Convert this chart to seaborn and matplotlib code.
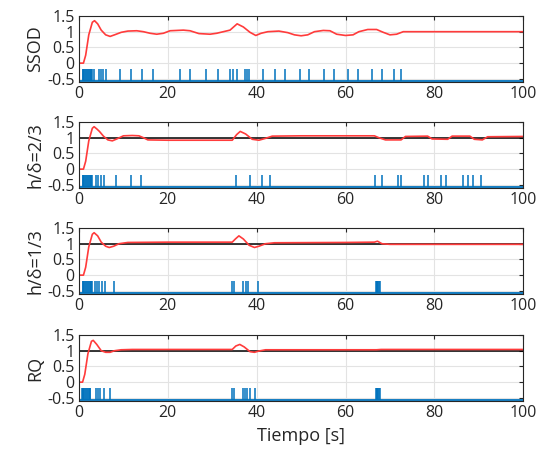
"""
Step responses with event markers for four schemes
"""

import numpy as np
import seaborn as sns
import matplotlib
matplotlib.use('Agg')
import matplotlib.pyplot as plt

sns.set_style('whitegrid')
plt.rcParams['font.family'] = ['Open Sans', 'DejaVu Sans']

# panel labels
labels = ['SSOD', 'h/\u03b4=2/3', 'h/\u03b4=1/3', 'RQ']

# response (red) per panel
t_ssod = [0, 1.0, 1.5, 2.2, 3.0, 3.5, 4.2, 5.0, 6.0, 7.0, 8.0, 9.5, 11, 13, 14.5, 16, 17.5, 19, 20.5, 23.5,
          25, 27, 29.5, 31, 32.5, 34, 35.6, 37, 38.5, 39.8, 41, 42.5, 45, 47, 48.5, 50, 51.5, 53, 55, 56.5,
          58, 60, 61.7, 63, 65, 67, 68.5, 70, 71.5, 73, 80, 90, 100]
y_ssod = [0, 0, 0.25, 0.9, 1.3, 1.35, 1.25, 1.05, 0.9, 0.85, 0.9, 0.98, 1.02, 1.03, 1.0, 0.95, 0.92, 0.95, 1.03, 1.05,
          1.03, 0.94, 0.92, 0.95, 1.0, 1.05, 1.25, 1.15, 0.98, 0.88, 0.95, 1.0, 1.02, 0.97, 0.9, 0.87, 0.9, 1.0, 1.04, 1.03,
          0.92, 0.88, 0.9, 1.0, 1.07, 1.07, 0.98, 0.9, 0.92, 1.0, 1.0, 1.0, 1.0]

t_h23 = [0, 1.0, 1.5, 2.2, 3.0, 3.4, 4.0, 4.6, 5.5, 6.5, 7.5, 8.5, 10, 12, 13.5, 14.5, 15.5, 20, 30, 34.5,
         35.5, 36.3, 37.5, 39, 40.5, 42, 43.5, 50, 60, 66.5, 67.5, 69, 72.5, 73.5, 78.5, 79.5, 83, 84, 88, 89,
         90.8, 92, 100]
y_h23 = [0, 0, 0.25, 0.9, 1.3, 1.35, 1.28, 1.2, 1.05, 0.93, 0.9, 0.96, 1.06, 1.07, 1.06, 1.0, 0.93, 0.92, 0.92, 0.92,
         1.1, 1.2, 1.12, 0.95, 0.92, 0.98, 1.05, 1.06, 1.06, 1.06, 1.0, 0.93, 0.93, 1.04, 1.05, 0.96, 0.95, 1.05, 1.05, 0.95,
         0.93, 1.03, 1.04]

t_h13 = [0, 1.0, 1.5, 2.2, 3.0, 3.4, 4.2, 5.0, 6.0, 6.8, 7.8, 9, 11, 20, 34.5, 35.2, 36, 37, 38.3, 39.5,
         40.5, 42, 44, 60, 66.5, 67.2, 68.2, 70, 100]
y_h13 = [0, 0, 0.25, 0.9, 1.3, 1.35, 1.25, 1.05, 0.92, 0.88, 0.92, 1.0, 1.04, 1.05, 1.05, 1.15, 1.25, 1.15, 0.95, 0.88,
         0.92, 1.0, 1.03, 1.04, 1.05, 1.08, 1.0, 0.98, 0.98]

t_rq = [0, 0.8, 1.3, 2.0, 2.8, 3.2, 4.0, 5.0, 6.0, 7.0, 8.0, 9.5, 12, 34.5, 35.3, 36.2, 37.2, 38.5, 39.5, 40.5,
        42, 67, 68, 100]
y_rq = [0, 0, 0.25, 0.9, 1.3, 1.33, 1.2, 1.0, 0.95, 0.95, 1.0, 1.03, 1.04, 1.04, 1.15, 1.2, 1.12, 0.97, 0.95, 0.99,
        1.03, 1.03, 1.04, 1.04]

# reference (black)
t_ref = [0, 100]
y_ref = [1, 1]
show_ref = [False, True, True, True]

# event instants (blue)
block_start = [0.9, 1.0, 1.2, 1.4, 1.6, 1.8, 2.0, 2.2, 2.4, 2.6, 2.8, 3.0]
ev_ssod = [0] + block_start + [3.3, 4.4, 5.0, 5.5, 6.0, 9.3, 11.7, 14.2, 16.7, 22.7, 25, 28.5, 31.3, 34, 34.7, 35.5,
                               37.4, 37.8, 38.3, 41.5, 44.1, 46.4, 49.8, 51.8, 55.2, 57.4, 60.6, 62.8, 66, 68.2,
                               70.9, 72.5]
ev_h23 = [0] + block_start + [3.8, 4.3, 4.9, 5.7, 8.3, 11.8, 13.9, 35.4, 38.5, 41.2, 43, 66.7, 68.2, 71.8, 72.5,
                              77.7, 78.6, 81.5, 82.6, 86.5, 87.6, 88.7, 90.5]
ev_h13 = [0] + block_start + [3.6, 4.0, 4.4, 5.1, 5.9, 7.8, 34.4, 34.8, 37, 37.5, 38.1, 40.2,
                              66.8, 67.0, 67.2, 67.4, 67.6, 67.8]
ev_rq = [0, 0.6, 0.8, 1.0, 1.2, 1.4, 1.6, 1.8, 2.0, 2.2, 2.4, 2.5] + [3.8, 4.3, 4.8, 5.6, 7, 34.4, 34.8, 36.9, 37.3,
                                                                        37.8, 38.4, 39.7, 66.8, 67.0, 67.2, 67.4,
                                                                        67.6, 67.8]

resp_t = [t_ssod, t_h23, t_h13, t_rq]
resp_y = [y_ssod, y_h23, y_h13, y_rq]
events = [ev_ssod, ev_h23, ev_h13, ev_rq]

red = '#ff3b3b'
blue = '#0072bd'

fig = plt.figure(figsize=(5.43, 4.54), dpi=100)
bottoms = [0.8194, 0.5859, 0.3524, 0.1167]

for i in range(4):
    ax = fig.add_axes([0.1455, bottoms[i], 0.818, 0.1454])
    if show_ref[i]:
        sns.lineplot(x=t_ref, y=y_ref, ax=ax, color='black', linewidth=1.1)
    sns.lineplot(x=resp_t[i], y=resp_y[i], ax=ax, color=red, linewidth=1.2)
    ax.vlines(events[i], -0.58, -0.2, color=blue, linewidth=1.1)
    ax.axhline(-0.58, color=blue, linewidth=1.3)

    ax.set_xlim(0, 100)
    ax.set_ylim(-0.6, 1.5)
    ax.set_xticks([0, 20, 40, 60, 80, 100])
    ax.set_yticks([-0.5, 0, 0.5, 1, 1.5])
    ax.set_yticklabels(['-0.5', '0', '0.5', '1', '1.5'])
    ax.grid(True, color='#e3e3e3', linewidth=0.8)
    ax.tick_params(direction='in', length=3, top=True, right=True, labelsize=11.5, colors='#262626',
                   pad=3)
    for s in ax.spines.values():
        s.set_color('#262626')
        s.set_linewidth(0.8)
    ax.set_ylabel(labels[i], fontsize=13, color='#262626', labelpad=2)

ax.set_xlabel('Tiempo [s]', fontsize=13, color='#262626')

plt.savefig('out.png', dpi=100)
